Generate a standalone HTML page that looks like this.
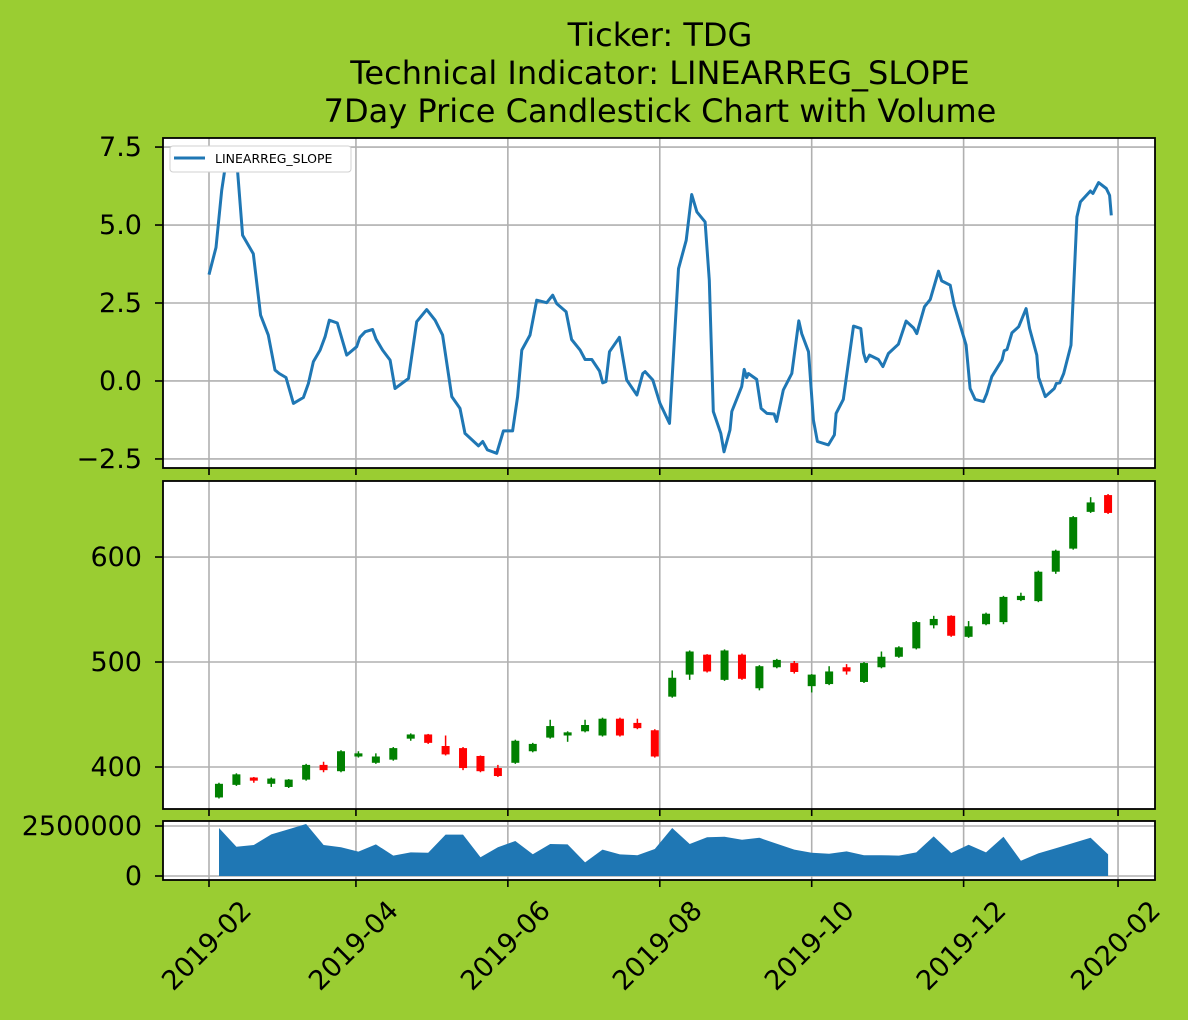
<!DOCTYPE html>
<html><head><meta charset="utf-8">
<style>
html,body{margin:0;padding:0;background:#9acd32;}
svg{display:block;font-family:"DejaVu Sans","Liberation Sans",sans-serif;}
</style></head>
<body>
<svg id="chart" width="1188" height="1020" xmlns="http://www.w3.org/2000/svg">
<rect width="1188" height="1020" fill="#9acd32"/>
<g font-size="32" text-anchor="middle" fill="#000">
<text x="660" y="46">Ticker: TDG</text>
<text x="660" y="84">Technical Indicator: LINEARREG_SLOPE</text>
<text x="660" y="122">7Day Price Candlestick Chart with Volume</text>
</g>
</svg>
<script>
// ---- data ----
const tickDays = [0,59,120,181,242,303,365];
const tickLabels = ["2019-02","2019-04","2019-06","2019-08","2019-10","2019-12","2020-02"];
// indicator line
const slopeDays = [0,2.8,5.1,7.1,11.1,13.5,17.8,20.7,23.8,26.5,28.2,30.9,33.9,37.9,39.9,41.9,44.6,46.6,48.3,51.5,55.3,59.3,60.6,62.7,65.7,67.1,69.7,72.7,74.7,80.1,83.4,87.4,90.8,93.8,97.5,100.8,102.8,108.2,109.9,111.8,115.5,118.2,121.9,123.9,125.6,128.9,131.6,135.6,138,139.6,143.4,145.6,149,151,153.7,156.8,158.1,159.4,160.8,164.8,167.7,171.8,174.2,175.1,178.2,181.1,184.9,188.5,191.6,193.8,195.9,199.2,200.9,202.5,205.5,206.8,209.2,209.9,213.9,214.9,215.9,216.6,219.9,221.7,224,226.9,227.9,230.6,234,236.8,238,240.7,242.7,244.3,248.7,251.1,251.8,254.7,258.8,261.7,262.8,263.8,265.2,268.8,270.6,272.8,276.8,279.9,282.9,284.2,287.3,289.6,292.9,294.2,297.6,299.2,304,305.6,307.6,311,312.3,314.3,318.4,319.3,320.4,322.4,325.1,328.1,329.5,332.4,333.1,335.8,339.4,340.2,341.6,343.2,346.1,348.5,349.9,353.9,354.9,357.2,360.3,361.6,362.3];
const slopeValues = [3.41,4.28,6.11,7.18,7.13,4.67,4.08,2.11,1.47,0.35,0.24,0.11,-0.72,-0.53,-0.08,0.62,0.99,1.42,1.95,1.86,0.83,1.10,1.40,1.58,1.65,1.34,0.99,0.67,-0.24,0.08,1.90,2.29,1.95,1.47,-0.50,-0.88,-1.68,-2.08,-1.94,-2.21,-2.32,-1.60,-1.60,-0.50,0.99,1.47,2.59,2.51,2.75,2.48,2.22,1.33,0.99,0.69,0.69,0.32,-0.06,-0.02,0.94,1.40,0.03,-0.45,0.24,0.30,0.03,-0.72,-1.36,3.60,4.51,5.98,5.42,5.10,3.23,-0.98,-1.68,-2.27,-1.57,-0.98,-0.18,0.37,0.11,0.24,0.05,-0.88,-1.04,-1.06,-1.30,-0.29,0.24,1.93,1.52,0.94,-1.25,-1.94,-2.05,-1.73,-1.04,-0.59,1.76,1.68,0.90,0.62,0.83,0.69,0.46,0.88,1.18,1.92,1.70,1.52,2.38,2.61,3.52,3.21,3.07,2.43,1.15,-0.24,-0.59,-0.66,-0.40,0.14,0.67,0.97,1.01,1.54,1.74,2.32,1.68,0.83,0.11,-0.50,-0.24,-0.08,-0.06,0.24,1.15,5.26,5.74,6.09,6.01,6.36,6.17,5.95,5.31];
// weekly candles (first at day 4, one per week)
const opens  = [371,383,390,384,381,388,402,396,410,404,407,427,431,420,418,410.5,399,404,415,428,430,434,430,446,442,435,467,488,507,483,507,475,495,499,477,479,495,481,495,505,513,535,544,524,536,538,559,558,586,608,643,659];
const closes = [384,393,387,389,388,402,397,415,413,410,418,431,423,412,399,396,391.4,425,422,439,433,440,446,430,437,410,485,510,491,511,484,496,502,490.5,488,491,491,499,505,514,538,541,525,534,546,562,563,586,606,638,652,642];
const highs  = [385,394,390.5,390,388.5,403,405,416,415,413,419,432,431.5,430,419,411,402,426,423,445,434,445,447,447,446,436,492,511,507.5,512,508,497,503,501,488.5,496,498,500,510,515,539,544,544.5,539,547,563,566,587,607,639,657,660];
const lows   = [370,382,385,381,380,387,395,395,409,403,406,425,422,411,397,395,390.5,403,414,427,424,433,429,429,436,409,466,483,490,482,483,473,494,489,471,478,488,480,494,504,512,532,524,523,535,536,558,557,584,607,642,641];
// weekly volume
const volumes = [2.40,1.46,1.55,2.08,2.34,2.60,1.55,1.44,1.22,1.58,1.02,1.18,1.16,2.07,2.07,0.94,1.44,1.75,1.09,1.60,1.58,0.68,1.32,1.08,1.04,1.35,2.40,1.60,1.94,1.96,1.81,1.91,1.61,1.32,1.16,1.11,1.23,1.04,1.04,1.02,1.18,1.98,1.15,1.56,1.18,1.96,0.76,1.13,1.39,1.65,1.91,1.08].map(v=>v*1e6);
const slopeTicks = [7.5,5.0,2.5,0.0,-2.5];
const slopeTickLabels = ["7.5","5.0","2.5","0.0","\u22122.5"];
const priceTicks = [400,500,600];
const volTicks = [0,2500000];

// ---- scales ----
const L=163,R=1155;
const X = d => 209 + d*2.4905;
const P1={top:138,bot:468,min:-2.79,max:7.79};
const P2={top:481,bot:809,min:360,max:672.4};
const P3={top:821,bot:880,min:-200000,max:2750000};
const Y=(p,v)=>p.bot-(v-p.min)/(p.max-p.min)*(p.bot-p.top);
const NS="http://www.w3.org/2000/svg";
const svg=document.getElementById('chart');
function mk(tag,attrs,parent){const e=document.createElementNS(NS,tag);for(const k in attrs)e.setAttribute(k,attrs[k]);(parent||svg).appendChild(e);return e;}

function panel(p,name){
  const g=mk('g',{});
  
  
  mk('rect',{x:L,y:p.top,width:R-L,height:p.bot-p.top,fill:'#fff'},g);
  const clip=mk('clipPath',{id:'c'+name},g);
  mk('rect',{x:L,y:p.top,width:R-L,height:p.bot-p.top},clip);
  tickDays.forEach(d=>{
    const gl=mk('line',{x1:X(d),x2:X(d),y1:p.top,y2:p.bot,stroke:'#b0b0b0','stroke-width':1.6},g);
    
    
    mk('line',{x1:X(d),x2:X(d),y1:p.bot,y2:p.bot+7,stroke:'#000','stroke-width':1.6},g);
  });
  return g;
}
function yticks(p,g,vals,labels){
  vals.forEach((v,i)=>{
    const y=Y(p,v);
    const gl=mk('line',{x1:L,x2:R,y1:y,y2:y,stroke:'#b0b0b0','stroke-width':1.6},g);
    
    
    mk('line',{x1:L-8,x2:L,y1:y,y2:y,stroke:'#000','stroke-width':1.6},g);
    const t=mk('text',{x:L-21,y:y+9,'text-anchor':'end','font-size':27,fill:'#000'},g);
    
    
    t.textContent=labels[i];
  });
}
function frame(p,g){mk('rect',{x:L,y:p.top,width:R-L,height:p.bot-p.top,fill:'none',stroke:'#000','stroke-width':1.8},g);}

// panel 1: indicator
const g1=panel(P1,'indicator-panel');
yticks(P1,g1,slopeTicks,slopeTickLabels);
let d='';
slopeDays.forEach((dd,i)=>{d+=(i?'L':'M')+X(dd).toFixed(1)+','+Y(P1,slopeValues[i]).toFixed(1);});
const line=mk('path',{d:d,fill:'none',stroke:'#1f77b4','stroke-width':3,'stroke-linejoin':'round','clip-path':'url(#cindicator-panel)'},g1);


const leg=mk('g',{},g1);


mk('rect',{x:170,y:146,width:181,height:26,rx:3,fill:'#fff',stroke:'#d0d0d0','stroke-width':1},leg);
mk('line',{x1:174,x2:205,y1:158,y2:158,stroke:'#1f77b4','stroke-width':3},leg);
const lt=mk('text',{x:215,y:163,'font-size':12.5,fill:'#000'},leg);


lt.textContent='LINEARREG_SLOPE';
frame(P1,g1);

// panel 2: candles
const g2=panel(P2,'candlestick-panel');
yticks(P2,g2,priceTicks,priceTicks.map(String));
opens.forEach((o,i)=>{
  const c=closes[i], day=4+7*i, x=X(day);
  const col=c>=o?'#008000':'#ff0000';
  const cg=mk('g',{},g2);
  
  
  mk('line',{x1:x,x2:x,y1:Y(P2,highs[i]),y2:Y(P2,lows[i]),stroke:col,'stroke-width':1.5},cg);
  const t=Y(P2,Math.max(o,c)), b=Y(P2,Math.min(o,c));
  mk('rect',{x:x-4,y:t,width:8,height:Math.max(1,b-t),fill:col},cg);
});
frame(P2,g2);

// panel 3: volume
const g3=panel(P3,'volume-panel');
yticks(P3,g3,volTicks,volTicks.map(String));
let vd='M'+X(4).toFixed(1)+','+Y(P3,0).toFixed(1);
volumes.forEach((v,i)=>{vd+='L'+X(4+7*i).toFixed(1)+','+Y(P3,v).toFixed(1);});
vd+='L'+X(4+7*(volumes.length-1)).toFixed(1)+','+Y(P3,0).toFixed(1)+'Z';
const area=mk('path',{d:vd,fill:'#1f77b4'},g3);


frame(P3,g3);

// x tick labels
tickDays.forEach((dd,i)=>{
  const x=X(dd);
  const t=mk('text',{x:0,y:0,'text-anchor':'middle','font-size':27,fill:'#000',transform:`translate(${x+4},${P3.bot+72}) rotate(-45)`});
  
  
  t.textContent=tickLabels[i];
});
</script>
</body></html>
